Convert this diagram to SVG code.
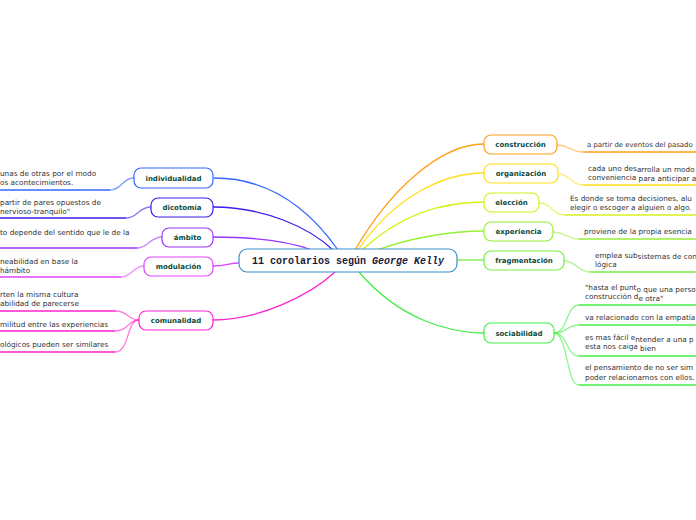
<svg xmlns="http://www.w3.org/2000/svg" width="696" height="520" viewBox="0 0 696 520">
<style>
.n rect{fill:#fff;stroke-width:1.2}
.n text{font-family:"DejaVu Sans",Verdana,sans-serif;font-size:7px;font-weight:bold;fill:#0d4a3c;text-anchor:middle}
.l{font-family:"DejaVu Sans",Verdana,sans-serif;font-size:7.3px;fill:#333}
.c path{fill:none;stroke-width:1.3}
.u{stroke-width:2;fill:none}
.t{stroke-width:0.9;fill:none;opacity:0.6}
</style>
<rect width="696" height="520" fill="#fff"/>
<g id="connectors" class="c">
<path d="M214,178 C270,178 310,210 338,250" stroke="#3366ff"/>
<path d="M213,207 C265,207 310,228 333,250" stroke="#3a1fe6"/>
<path d="M213,237 C260,237 290,242 312,250" stroke="#9933ff"/>
<path d="M213,266 C225,266 230,263 239,263" stroke="#dd44ff"/>
<path d="M213,320 C260,320 310,295 335,272" stroke="#ff22cc"/>
<path d="M355,250 C390,190 440,144 484,144" stroke="#ff9f1a"/>
<path d="M358,250 C392,200 440,173 484,173" stroke="#ffdf1a"/>
<path d="M362,250 C400,215 440,202 484,202" stroke="#d8f01a"/>
<path d="M377,250 C410,238 450,231 484,231" stroke="#99ee33"/>
<path d="M457,260 L484,260" stroke="#77ee44"/>
<path d="M359,272 C400,320 450,333 484,333" stroke="#44ee44"/>
<path class="u" d="M0,190 L110,190" stroke="#3366ff"/>
<path class="t" d="M110,190 C122,190 122,178 134,178" stroke="#3366ff"/>
<path class="u" d="M0,218 L126,218" stroke="#3a1fe6"/>
<path class="t" d="M126,218 C138,218 138,207 151,207" stroke="#3a1fe6"/>
<path class="u" d="M0,248 L137,248" stroke="#9933ff"/>
<path class="t" d="M137,248 C148,248 150,237 162,237" stroke="#9933ff"/>
<path class="u" d="M0,277 L121,277" stroke="#dd44ff"/>
<path class="t" d="M121,277 C132,277 133,266 144,266" stroke="#dd44ff"/>
<path class="u" d="M0,311 L116,311" stroke="#ff22cc"/>
<path class="t" d="M116,311 C128,311 128,320 139,320" stroke="#ff22cc"/>
<path class="u" d="M0,331 L115,331" stroke="#ff22cc"/>
<path class="t" d="M115,331 C128,331 128,320 139,320" stroke="#ff22cc"/>
<path class="u" d="M0,352 L115,352" stroke="#ff22cc"/>
<path class="t" d="M115,352 C130,352 126,320 139,320" stroke="#ff22cc"/>
<path class="t" d="M557,145 C570,145 570,152 583,152" stroke="#ff9f1a"/>
<path class="u" d="M583,152 L696,152" stroke="#ff9f1a"/>
<path class="t" d="M558,174 C570,174 571,185 583,185" stroke="#ffdf1a"/>
<path class="u" d="M583,185 L696,185" stroke="#ffdf1a"/>
<path class="t" d="M539,203 C552,203 552,215 565,215" stroke="#d8f01a"/>
<path class="u" d="M565,215 L696,215" stroke="#d8f01a"/>
<path class="t" d="M553,232 C566,232 566,239 579,239" stroke="#99ee33"/>
<path class="u" d="M579,239 L696,239" stroke="#99ee33"/>
<path class="t" d="M564,261 C577,261 577,272 590,272" stroke="#77ee44"/>
<path class="u" d="M590,272 L696,272" stroke="#77ee44"/>
<path class="t" d="M554,333 C568,333 566,305 579,305" stroke="#44ee44"/>
<path class="u" d="M579,305 L696,305" stroke="#44ee44"/>
<path class="t" d="M554,333 C568,333 566,325 579,325" stroke="#44ee44"/>
<path class="u" d="M579,325 L696,325" stroke="#44ee44"/>
<path class="t" d="M554,333 C568,333 566,356 579,356" stroke="#44ee44"/>
<path class="u" d="M579,356 L696,356" stroke="#44ee44"/>
<path class="t" d="M554,333 C568,333 566,385 579,385" stroke="#44ee44"/>
<path class="u" d="M579,385 L696,385" stroke="#44ee44"/>
</g>
<g id="center" class="n">
<rect x="239" y="249" width="218" height="23" rx="8" stroke="#3a8fd0"/>
<text x="348" y="264" style="font-family:'Liberation Mono','Courier New',monospace;font-size:10px;fill:#1a1a3a">11 corolarios según <tspan font-style="italic">George Kelly</tspan></text>
</g>
<g id="individualidad" class="n"><rect x="134" y="168" width="79" height="20" rx="7" stroke="#3366ff"/><text x="173.5" y="181">individualidad</text></g>
<g id="dicotomia" class="n"><rect x="151" y="198" width="62" height="19" rx="7" stroke="#3a1fe6"/><text x="182" y="210">dicotomía</text></g>
<g id="ambito" class="n"><rect x="162" y="228" width="51" height="19" rx="7" stroke="#9933ff"/><text x="187.5" y="240">ámbito</text></g>
<g id="modulacion" class="n"><rect x="144" y="257" width="69" height="19" rx="7" stroke="#dd44ff"/><text x="178.5" y="269">modulación</text></g>
<g id="comunalidad" class="n"><rect x="139" y="311" width="74" height="19" rx="7" stroke="#ff22cc"/><text x="176" y="323">comunalidad</text></g>
<g id="construccion" class="n"><rect x="484" y="135" width="73" height="19" rx="7" stroke="#ff9f1a"/><text x="520.5" y="147">construcción</text></g>
<g id="organizacion" class="n"><rect x="484" y="164" width="74" height="19" rx="7" stroke="#ffdf1a"/><text x="521" y="176">organización</text></g>
<g id="eleccion" class="n"><rect x="484" y="193" width="55" height="19" rx="7" stroke="#d8f01a"/><text x="511.5" y="205">elección</text></g>
<g id="experiencia" class="n"><rect x="484" y="222" width="69" height="19" rx="7" stroke="#99ee33"/><text x="518.5" y="234">experiencia</text></g>
<g id="fragmentacion" class="n"><rect x="484" y="251" width="80" height="19" rx="7" stroke="#77ee44"/><text x="524" y="263">fragmentación</text></g>
<g id="sociabilidad" class="n"><rect x="484" y="323" width="70" height="20" rx="7" stroke="#44ee44"/><text x="519" y="336">sociabilidad</text></g>
<g id="leaves-left">
<text class="l" x="0" y="176">unas de otras por el modo</text>
<text class="l" x="0" y="185">os acontecimientos.</text>
<text class="l" x="0" y="205">partir de pares opuestos de</text>
<text class="l" x="0" y="214">nervioso-tranquilo"</text>
<text class="l" x="0" y="235">to depende del sentido que le de la</text>
<text class="l" x="0" y="264">neabilidad en base la</text>
<text class="l" x="0" y="273"> hámbito</text>
<text class="l" x="0" y="297">rten la misma cultura</text>
<text class="l" x="0" y="306">abilidad de parecerse</text>
<text class="l" x="0" y="327">militud entre las experiencias</text>
<text class="l" x="0" y="347">ológicos pueden ser similares</text>
</g>
<g id="leaves-right">
<text class="l" x="587" y="147" style="font-size:6.9px">a partir de eventos del pasado</text>
<text class="l" x="588" y="171">cada uno des<tspan dy="1">arrolla un modo</tspan></text>
<text class="l" x="588" y="180">conveniencia <tspan dy="1">para anticipar a</tspan></text>
<text class="l" x="570" y="201">Es donde se toma decisiones, alu</text>
<text class="l" x="570" y="210">elegir o escoger a alguien o algo.</text>
<text class="l" x="584" y="234">proviene de la propia esencia</text>
<text class="l" x="595" y="258">emplea sub<tspan dy="1">sistemas de con</tspan></text>
<text class="l" x="595" y="267">lógica</text>
<text class="l" x="585" y="290">"hasta el punt<tspan dy="1.5">o que una perso</tspan></text>
<text class="l" x="585" y="299">construcción d<tspan dy="1.5">e otra"</tspan></text>
<text class="l" x="585" y="320">va relacionado con la empatía</text>
<text class="l" x="585" y="340">es mas fácil e<tspan dy="1.5">ntender a una p</tspan></text>
<text class="l" x="585" y="349">esta nos caiga <tspan dy="1.5">bien</tspan></text>
<text class="l" x="585" y="370">el pensamiento de no ser sim</text>
<text class="l" x="585" y="380">poder relacionarnos con ellos.</text>
</g>
</svg>
